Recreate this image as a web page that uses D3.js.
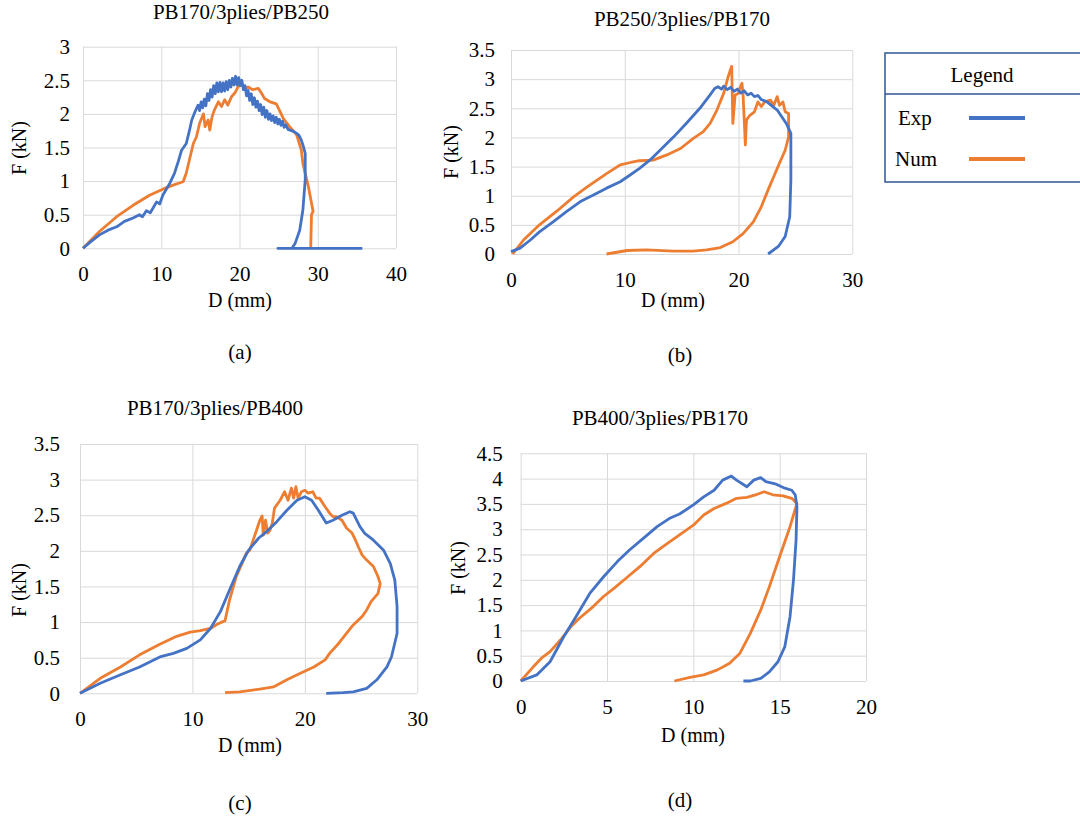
<!DOCTYPE html>
<html>
<head>
<meta charset="utf-8">
<script src="https://cdn.jsdelivr.net/npm/d3@7"></script>
<style>
  html, body { margin: 0; padding: 0; background: #fff; }
  svg { display: block; }
  text { font-family: "Liberation Serif", "Times New Roman", serif; fill: #000; }
</style>
</head>
<body>
<svg id="chart" width="1080" height="822"></svg>
<script>
// ---------- DATA ----------
const seriesNames = ["Exp", "Num"];
const panelTitles = ["PB170/3plies/PB250", "PB250/3plies/PB170", "PB170/3plies/PB400", "PB400/3plies/PB170"];
const panelLabels = ["(a)", "(b)", "(c)", "(d)"];

const xTicksA = [0, 10, 20, 30, 40];
const yTicksA = [0, 0.5, 1, 1.5, 2, 2.5, 3];
const xTicksB = [0, 10, 20, 30];
const yTicksB = [0, 0.5, 1, 1.5, 2, 2.5, 3, 3.5];
const xTicksC = [0, 10, 20, 30];
const yTicksC = [0, 0.5, 1, 1.5, 2, 2.5, 3, 3.5];
const xTicksD = [0, 5, 10, 15, 20];
const yTicksD = [0, 0.5, 1, 1.5, 2, 2.5, 3, 3.5, 4, 4.5];

// [D (mm), F (kN)]
const expA = [[0,0],[1,0.1],[2.1,0.2],[3.2,0.27],[4.3,0.32],[5.3,0.4],[6.4,0.45],[7.2,0.5],[7.6,0.47],[8.1,0.56],[8.6,0.53],[9.4,0.69],[9.8,0.66],[10.2,0.79],[11.1,0.97],[11.7,1.12],[12.2,1.3],[12.6,1.46],[13.2,1.56],[13.6,1.75],[13.9,1.91],[14.2,2.0],[14.5,2.08],[14.7,2.13],[14.9,2.05],[15.1,2.18],[15.3,2.09],[15.5,2.22],[15.7,2.12],[15.9,2.3],[16.1,2.2],[16.3,2.36],[16.5,2.25],[16.7,2.42],[16.9,2.3],[17.1,2.46],[17.3,2.33],[17.5,2.47],[17.7,2.33],[17.9,2.46],[18.1,2.34],[18.3,2.48],[18.5,2.36],[18.7,2.5],[18.9,2.4],[19.1,2.53],[19.3,2.43],[19.5,2.56],[19.7,2.43],[19.9,2.54],[20.1,2.42],[20.3,2.5],[20.5,2.36],[20.7,2.42],[20.9,2.27],[21.1,2.35],[21.3,2.2],[21.5,2.3],[21.7,2.14],[21.9,2.24],[22.1,2.1],[22.3,2.19],[22.5,2.05],[22.7,2.14],[22.9,1.99],[23.1,2.1],[23.3,1.95],[23.5,2.05],[23.7,1.92],[23.9,2.0],[24.1,1.9],[24.3,1.97],[24.5,1.87],[24.7,1.95],[24.9,1.85],[25.1,1.92],[25.3,1.83],[25.5,1.89],[25.7,1.8],[25.9,1.84],[26.2,1.77],[26.9,1.74],[27.3,1.71],[27.6,1.68],[27.9,1.61],[28.2,1.5],[28.4,1.41],[28.4,1.02],[28.1,0.57],[27.7,0.27],[27.1,0.07],[26.7,0],[24.9,0],[35.7,0]];
const numA = [[0,0],[2.1,0.25],[4.3,0.47],[6.4,0.64],[8.5,0.79],[10.2,0.88],[11.5,0.94],[12.8,0.99],[13.2,1.12],[14.1,1.56],[14.5,1.66],[14.9,1.86],[15.4,2.0],[15.6,1.81],[16,1.91],[16.2,1.76],[16.5,1.96],[16.8,2.06],[17.3,2.18],[17.7,2.11],[18.1,2.21],[18.5,2.13],[19,2.26],[19.4,2.31],[19.8,2.4],[20.3,2.45],[20.7,2.38],[21.1,2.4],[21.7,2.36],[22.4,2.38],[22.8,2.31],[23.2,2.23],[23.9,2.18],[24.7,2.15],[25.2,2.03],[25.6,1.93],[26.4,1.81],[27.3,1.69],[27.9,1.46],[28.1,1.26],[28.8,0.92],[29.4,0.55],[29.2,0.5],[29.1,0]];

const expB = [[0,0.04],[0.8,0.1],[1.7,0.24],[2.5,0.38],[3.7,0.55],[4.9,0.73],[6.1,0.9],[7.2,1.01],[8.4,1.13],[9.6,1.24],[10.5,1.36],[11.3,1.47],[12.2,1.61],[13.1,1.78],[14.3,2.01],[15.4,2.24],[16.6,2.5],[17.5,2.73],[17.9,2.84],[18.2,2.87],[18.5,2.83],[18.7,2.88],[19,2.82],[19.3,2.86],[19.6,2.79],[19.9,2.83],[20.2,2.76],[20.5,2.8],[20.8,2.73],[21.1,2.76],[21.4,2.7],[21.7,2.72],[22,2.65],[22.5,2.61],[23.4,2.47],[24.2,2.24],[24.6,2.07],[24.6,1.27],[24.5,0.64],[24.1,0.3],[23.5,0.13],[22.6,0]];
const numB = [[0.15,0],[1.1,0.24],[2.5,0.5],[4.3,0.78],[5.5,0.98],[6.7,1.15],[8.4,1.38],[9.6,1.53],[10.5,1.57],[11.3,1.6],[12.5,1.61],[13.7,1.7],[14.9,1.81],[16,1.98],[16.9,2.1],[17.5,2.24],[18.1,2.47],[18.7,2.76],[19.1,3.05],[19.4,3.22],[19.5,2.24],[19.7,2.73],[20,2.76],[20.1,2.84],[20.3,2.93],[20.4,2.73],[20.6,1.87],[20.7,2.3],[21,2.38],[21.4,2.44],[21.7,2.61],[22,2.53],[22.3,2.61],[22.8,2.64],[23.1,2.55],[23.4,2.7],[23.6,2.55],[23.9,2.61],[24.1,2.44],[24.4,2.41],[24.4,2.01],[24.1,1.78],[23.6,1.56],[23.1,1.33],[22.6,1.1],[22,0.81],[21.3,0.55],[20.4,0.35],[19.5,0.21],[18.4,0.11],[17.2,0.07],[16,0.05],[14.3,0.05],[11.9,0.07],[10.2,0.06],[8.4,0]];

const expC = [[0,0],[1.8,0.14],[3.6,0.26],[5.3,0.37],[7.1,0.51],[8.3,0.56],[9.5,0.63],[10.7,0.75],[11.6,0.91],[12.5,1.15],[13.3,1.45],[14.2,1.78],[15,2.01],[15.9,2.18],[16.6,2.27],[17.5,2.41],[18.4,2.57],[19.3,2.71],[20,2.76],[20.6,2.71],[21.2,2.57],[21.9,2.39],[22.5,2.43],[23.3,2.5],[24,2.55],[24.3,2.53],[24.9,2.34],[25.3,2.25],[26.1,2.15],[27,2.01],[27.6,1.82],[28,1.59],[28.2,1.22],[28.2,0.84],[27.7,0.51],[27.3,0.37],[26.4,0.19],[25.5,0.07],[24.3,0.02],[23.4,0.01],[21.9,0]];
const numC = [[0,0],[1.8,0.21],[3.6,0.37],[5.3,0.54],[7.1,0.69],[8.6,0.8],[9.8,0.86],[10.7,0.88],[11.6,0.91],[12.2,0.97],[12.9,1.02],[13.3,1.31],[13.9,1.64],[14.4,1.82],[14.8,1.97],[15.1,2.01],[15.4,2.15],[15.7,2.29],[16,2.43],[16.2,2.49],[16.3,2.22],[16.5,2.43],[16.7,2.25],[16.9,2.29],[17.1,2.39],[17.3,2.6],[17.8,2.71],[18.2,2.83],[18.5,2.71],[18.8,2.88],[19,2.74],[19.2,2.9],[19.4,2.74],[19.7,2.83],[20,2.85],[20.3,2.81],[20.7,2.83],[21,2.74],[21.3,2.74],[21.8,2.62],[22.2,2.53],[22.5,2.48],[22.8,2.48],[23.3,2.43],[23.7,2.32],[24.2,2.25],[24.5,2.15],[24.8,2.04],[25.1,1.94],[25.5,1.87],[26.1,1.78],[26.5,1.64],[26.7,1.54],[26.5,1.4],[25.9,1.29],[25.5,1.17],[25.1,1.08],[24.3,0.96],[23.7,0.84],[23,0.7],[22.2,0.56],[21.8,0.47],[20.8,0.37],[19.6,0.28],[18.4,0.19],[17.2,0.09],[16,0.06],[14.2,0.02],[12.9,0.01]];

const expD = [[0,0],[0.93,0.12],[1.7,0.38],[2.5,0.88],[3.2,1.27],[4,1.73],[4.8,2.06],[5.6,2.36],[6.3,2.59],[7.1,2.82],[7.9,3.05],[8.6,3.21],[9.2,3.3],[10,3.48],[10.6,3.64],[11.2,3.77],[11.7,3.97],[12.2,4.05],[12.5,3.97],[13.1,3.84],[13.5,3.97],[13.9,4.02],[14.2,3.94],[14.8,3.89],[15.3,3.81],[15.7,3.77],[15.9,3.68],[16,3.45],[15.95,2.79],[15.8,2.0],[15.6,1.27],[15.3,0.68],[14.9,0.38],[14.4,0.18],[13.9,0.05],[13.3,0],[12.9,0]];
const numD = [[0,0],[0.73,0.28],[1.2,0.45],[1.7,0.58],[2.3,0.81],[2.9,1.07],[3.4,1.24],[4.2,1.47],[4.8,1.67],[5.4,1.83],[6.1,2.03],[6.9,2.26],[7.7,2.52],[8.5,2.72],[9.2,2.89],[10,3.08],[10.6,3.28],[11.2,3.41],[11.9,3.51],[12.5,3.61],[13.1,3.63],[13.7,3.69],[14.1,3.74],[14.6,3.68],[15.2,3.66],[15.7,3.61],[16,3.51],[15.6,3.05],[15,2.46],[14.4,1.86],[13.9,1.4],[13.3,0.94],[12.7,0.55],[12.1,0.35],[11.4,0.22],[10.6,0.12],[9.8,0.07],[8.9,0]];

// ---------- LAYOUT ----------
const colors = { Exp: "#4472C4", Num: "#ED7D31" };
const svg = d3.select("#chart");

const panels = [
  { title: panelTitles[0], label: panelLabels[0], exp: expA, num: numA, xTicks: xTicksA, yTicks: yTicksA,
    xr: [83, 396], yr: [248.3, 46.7], titlePos: [241, 19], xtPos: [240, 307], ytPos: [26, 148], lblPos: [240, 359], yPad: 13 },
  { title: panelTitles[1], label: panelLabels[1], exp: expB, num: numB, xTicks: xTicksB, yTicks: yTicksB,
    xr: [511, 852.3], yr: [254, 50], titlePos: [682, 26], xtPos: [673, 307], ytPos: [458, 152], lblPos: [680, 362], yPad: 16 },
  { title: panelTitles[2], label: panelLabels[2], exp: expC, num: numC, xTicks: xTicksC, yTicks: yTicksC,
    xr: [80, 417.3], yr: [693.3, 444], titlePos: [215, 415], xtPos: [250, 752], ytPos: [26, 590], lblPos: [240, 810], yPad: 20 },
  { title: panelTitles[3], label: panelLabels[3], exp: expD, num: numD, xTicks: xTicksD, yTicks: yTicksD,
    xr: [520.7, 866], yr: [681, 453.3], titlePos: [660, 425], xtPos: [693, 742], ytPos: [465, 568], lblPos: [680, 807], yPad: 18 }
];

panels.forEach(p => {
  const x = d3.scaleLinear().domain([p.xTicks[0], p.xTicks[p.xTicks.length - 1]]).range(p.xr);
  const y = d3.scaleLinear().domain([p.yTicks[0], p.yTicks[p.yTicks.length - 1]]).range(p.yr);
  const g = svg.append("g");
  const w = p.xr[1] - p.xr[0], h = p.yr[0] - p.yr[1];

  // gridlines
  g.append("g").attr("transform", `translate(0,${p.yr[0]})`)
    .call(d3.axisBottom(x).tickValues(p.xTicks).tickSize(-h).tickFormat(""))
    .call(s => s.select(".domain").remove())
    .call(s => s.selectAll("line").attr("stroke", "#d9d9d9").attr("stroke-width", 1));
  g.append("g").attr("transform", `translate(${p.xr[0]},0)`)
    .call(d3.axisLeft(y).tickValues(p.yTicks).tickSize(-w).tickFormat(""))
    .call(s => s.select(".domain").remove())
    .call(s => s.selectAll("line").attr("stroke", "#d9d9d9").attr("stroke-width", 1));

  // tick labels
  g.append("g").attr("transform", `translate(0,${p.yr[0]})`)
    .call(d3.axisBottom(x).tickValues(p.xTicks).tickSize(0).tickPadding(18).tickFormat(d3.format("~g")))
    .call(s => s.select(".domain").remove())
    .call(s => s.selectAll("text").attr("font-size", 21).attr("font-family", "Liberation Serif").attr("fill", "#000"));
  g.append("g").attr("transform", `translate(${p.xr[0]},0)`)
    .call(d3.axisLeft(y).tickValues(p.yTicks).tickSize(0).tickPadding(p.yPad).tickFormat(d3.format("~g")))
    .call(s => s.select(".domain").remove())
    .call(s => s.selectAll("text").attr("font-size", 21).attr("font-family", "Liberation Serif").attr("fill", "#000"));

  // lines
  const line = d3.line().x(d => x(d[0])).y(d => y(d[1]));
  g.append("path").datum(p.num).attr("d", line).attr("fill", "none")
    .attr("stroke", colors.Num).attr("stroke-width", 2.8).attr("stroke-linejoin", "round");
  g.append("path").datum(p.exp).attr("d", line).attr("fill", "none")
    .attr("stroke", colors.Exp).attr("stroke-width", 2.8).attr("stroke-linejoin", "round");

  // texts
  g.append("text").attr("x", p.titlePos[0]).attr("y", p.titlePos[1]).attr("text-anchor", "middle")
    .attr("font-size", 21).text(p.title);
  g.append("text").attr("x", p.xtPos[0]).attr("y", p.xtPos[1]).attr("text-anchor", "middle")
    .attr("font-size", 20).text("D (mm)");
  g.append("text").attr("transform", `translate(${p.ytPos[0]},${p.ytPos[1]}) rotate(-90)`)
    .attr("text-anchor", "middle").attr("font-size", 20).text("F (kN)");
  g.append("text").attr("x", p.lblPos[0]).attr("y", p.lblPos[1]).attr("text-anchor", "middle")
    .attr("font-size", 21).text(p.label);
});

// ---------- LEGEND ----------
const lg = svg.append("g");
lg.append("rect").attr("x", 885).attr("y", 53).attr("width", 200).attr("height", 129)
  .attr("fill", "#fff").attr("stroke", "#2F5597").attr("stroke-width", 1.5);
lg.append("line").attr("x1", 885).attr("x2", 1080).attr("y1", 94).attr("y2", 94)
  .attr("stroke", "#2F5597").attr("stroke-width", 1.5);
lg.append("text").attr("x", 982).attr("y", 82).attr("text-anchor", "middle").attr("font-size", 21).text("Legend");
seriesNames.forEach((name, i) => {
  const yy = [118, 159][i];
  lg.append("text").attr("x", i === 0 ? 898 : 895).attr("y", yy + 7).attr("font-size", 21).text(name);
  lg.append("line").attr("x1", 969).attr("x2", 1025).attr("y1", yy).attr("y2", yy)
    .attr("stroke", colors[name]).attr("stroke-width", 4);
});
</script>
</body>
</html>
